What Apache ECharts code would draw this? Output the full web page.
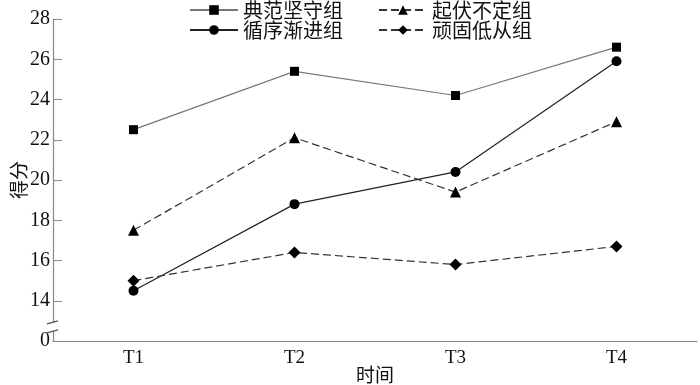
<!DOCTYPE html>
<html>
<head>
<meta charset="utf-8">
<script src="https://cdn.jsdelivr.net/npm/echarts@6/dist/echarts.min.js"></script>
<style>html,body{margin:0;padding:0;background:#fff}#c{width:700px;height:385px}</style>
</head>
<body>
<div id="c"></div>
<script>
const categories = ['T1', 'T2', 'T3', 'T4'];
const seriesNames = ['典范坚守组', '起伏不定组', '循序渐进组', '顽固低从组'];
const dianfan = [22.5, 25.4, 24.2, 26.6];
const qifu = [17.5, 22.1, 19.4, 22.9];
const xunxu = [14.5, 18.8, 20.4, 25.9];
const wangu = [15.0, 16.4, 15.8, 16.7];
const yTickLabels = { 12: '0' };

const serif = '"Liberation Serif", "Times New Roman", serif';
const cjk = '"Noto Sans CJK SC", sans-serif';

const chart = echarts.init(document.getElementById('c'));
const mk = (name, data, symbol, color, type, size) => ({
  name, type: 'line', data, symbol, symbolSize: size,
  itemStyle: { color: '#000' },
  lineStyle: { color, width: 1.2, type },
  emphasis: { disabled: true }
});
const legendCommon = {
  itemWidth: 48, itemHeight: 12, itemGap: 35,
  textStyle: { fontFamily: cjk, fontSize: 20, color: '#111', lineHeight: 19 },
  left: 189, selectedMode: false, padding: 0
};
chart.setOption({
  animation: false,
  legend: [
    Object.assign({ top: 0, data: [seriesNames[0], seriesNames[1]] }, legendCommon),
    Object.assign({ top: 20, data: [seriesNames[2], seriesNames[3]] }, legendCommon)
  ],
  grid: { left: 53, right: 3, top: 19, bottom: 44, outerBoundsMode: 'none', containLabel: false },
  xAxis: {
    type: 'category', data: categories, boundaryGap: true,
    name: '时间', nameLocation: 'middle', nameGap: 24, nameMoveOverlap: false,
    nameTextStyle: { fontFamily: cjk, fontSize: 19, color: '#111' },
    axisLine: { lineStyle: { color: '#888', width: 1.2 } },
    axisTick: { inside: true, length: 5, lineStyle: { color: '#888' } },
    axisLabel: { fontFamily: serif, fontSize: 19, color: '#111', margin: 8 }
  },
  yAxis: {
    type: 'value', min: 12, max: 28, interval: 2,
    name: '得分', nameLocation: 'middle', nameGap: 25, nameRotate: 90, nameMoveOverlap: false,
    nameTextStyle: { fontFamily: cjk, fontSize: 19, color: '#111' },
    splitLine: { show: false },
    axisLine: { show: true, lineStyle: { color: '#888', width: 1.2 } },
    axisTick: { show: true, inside: true, length: 9, lineStyle: { color: '#888' } },
    axisLabel: {
      fontFamily: serif, fontSize: 20, color: '#111', margin: 3,
      formatter: v => (yTickLabels[v] !== undefined ? yTickLabels[v] : String(v))
    }
  },
  series: [
    mk(seriesNames[0], dianfan, 'rect', '#777', 'solid', 9),
    mk(seriesNames[1], qifu, 'triangle', '#333', [8, 4], 11),
    mk(seriesNames[2], xunxu, 'circle', '#222', 'solid', 10),
    mk(seriesNames[3], wangu, 'diamond', '#333', [8, 4], 12)
  ]
});

const ax = 53;
const yA = chart.convertToPixel({ yAxisIndex: 0 }, 12.95);
const yB = chart.convertToPixel({ yAxisIndex: 0 }, 12.5);
chart.setOption({
  graphic: [
    { type: 'rect', shape: { x: ax - 2, y: yA, width: 4, height: yB - yA }, style: { fill: '#fff' }, z: 100 },
    { type: 'line', shape: { x1: ax - 6, y1: yA + 2, x2: ax + 5, y2: yA - 1 }, style: { stroke: '#555', lineWidth: 1.2 }, z: 101 },
    { type: 'line', shape: { x1: ax - 6, y1: yB + 2, x2: ax + 5, y2: yB - 1 }, style: { stroke: '#555', lineWidth: 1.2 }, z: 101 }
  ]
});
</script>
</body>
</html>
